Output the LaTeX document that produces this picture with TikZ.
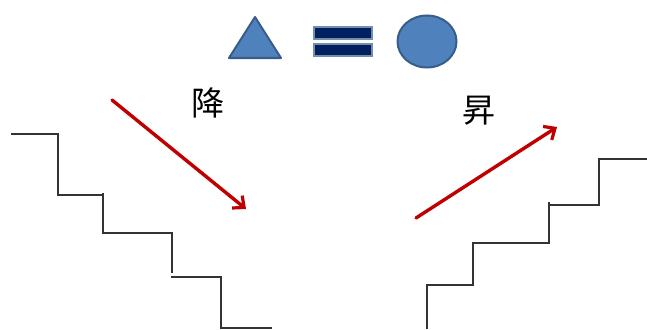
\documentclass[tikz,border=0pt]{standalone}
\usepackage{fontspec}
\newfontfamily\cjk{Noto Sans CJK JP}
\usetikzlibrary{arrows.meta}
\definecolor{hinhxanh}{HTML}{4F81BD}
\definecolor{vienxanh}{HTML}{385D8A}
\definecolor{xanhdam}{HTML}{002060}
\definecolor{dodam}{HTML}{C00000}
\begin{document}
\begin{tikzpicture}[x=1pt, y=-1pt, line cap=round]
\useasboundingbox (0,0) rectangle (647,329);
% Vẽ tam giác, dấu bằng và hình tròn
\draw[vienxanh, line width=2pt, fill=hinhxanh, line join=round] (229,58) -- (255,17) -- (281,58) -- cycle;
\draw[vienxanh!70, line width=1.5pt, fill=xanhdam] (314,27) rectangle (372,39);
\draw[vienxanh!70, line width=1.5pt, fill=xanhdam] (314,44) rectangle (372,56);
\draw[vienxanh, line width=2pt, fill=hinhxanh] (427,41.5) ellipse (29.5 and 26);
% Chữ 降 và 昇
\node[font=\cjk\fontsize{33}{33}\selectfont] (giam) at (208,103) {降};
\node[font=\cjk\fontsize{33}{33}\selectfont] (tang) at (479,111) {昇};
% Cầu thang đi xuống
\draw[black!80, line width=1.2pt, line cap=butt] (11,134) -- (58,134) -- (58,195) -- (104,195);
\draw[black!80, line width=1.2pt, line cap=butt] (103,193) -- (103,233) -- (172,233) -- (172,273);
\draw[black!80, line width=1.2pt, line cap=butt] (171,277) -- (221,277) -- (221,328) -- (272,328);
% Cầu thang đi lên
\draw[black!80, line width=1.2pt, line cap=butt] (427,329) -- (427,285) -- (473,285) -- (473,243) -- (549,243) -- (549,202);
\draw[black!80, line width=1.2pt, line cap=butt] (549,205) -- (599,205) -- (599,159) -- (647,159);
% Mũi tên đỏ
\coordinate (xuongdau) at (112,100);
\coordinate (xuongcuoi) at (246,209);
\coordinate (lendau) at (416,218);
\coordinate (lencuoi) at (557,127);
\draw[dodam, line width=3.4pt, -{Straight Barb[length=9pt, width=16pt, line width=3.2pt]}] (xuongdau) -- (xuongcuoi);
\draw[dodam, line width=3.4pt, -{Straight Barb[length=9pt, width=16pt, line width=3.2pt]}] (lendau) -- (lencuoi);
\end{tikzpicture}
\end{document}
